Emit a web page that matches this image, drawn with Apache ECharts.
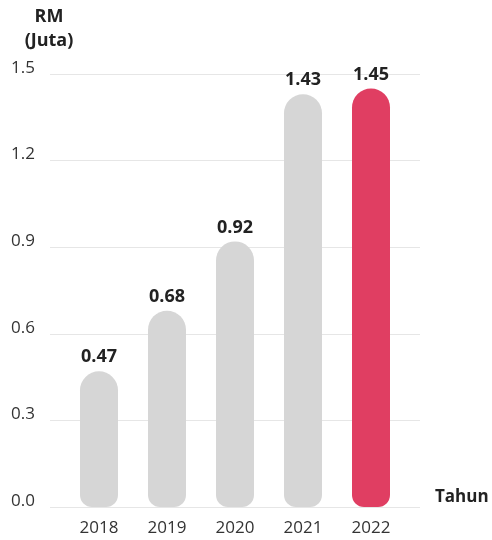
<!DOCTYPE html>
<html>
<head>
<meta charset="utf-8">
<script src="https://cdn.jsdelivr.net/npm/echarts@6/dist/echarts.min.js"></script>
<style>html,body{margin:0;padding:0;background:#fff}#c{width:492px;height:540px}</style>
</head>
<body>
<div id="c"></div>
<script>
const years = ['2018', '2019', '2020', '2021', '2022'];
const values = [0.47, 0.68, 0.92, 1.43, 1.45];
const yTicks = { min: 0, max: 1.5, interval: 0.3 };
const unitLabel = 'RM\n(Juta)';
const xName = 'Tahun';

const FONT = '"Open Sans", Lato, sans-serif';
const grey = '#d6d6d6', red = '#e03e62';
const chart = echarts.init(document.getElementById('c'));
const gTop = 74, gBottom = 33;
chart.setOption({
  animation: false,
  grid: [
    { left: 50, right: 72, top: gTop, bottom: gBottom },
    { left: 65, right: 87, top: gTop, bottom: gBottom }
  ],
  xAxis: [
    { gridIndex: 0, type: 'category', data: years, show: false },
    { gridIndex: 1, type: 'category', data: years,
      axisLine: { show: false }, axisTick: { show: false },
      axisLabel: { color: '#333', fontSize: 17, fontFamily: FONT, margin: 13 } }
  ],
  yAxis: [
    { gridIndex: 0, type: 'value', min: yTicks.min, max: yTicks.max, interval: yTicks.interval,
      axisLine: { show: false }, axisTick: { show: false },
      splitLine: { lineStyle: { color: '#e6e6e6', width: 1 } },
      axisLabel: { color: '#333', fontSize: 17, fontFamily: FONT, margin: 15, verticalAlign: 'bottom',
        lineHeight: 12, formatter: v => v.toFixed(1) } },
    { gridIndex: 1, type: 'value', min: yTicks.min, max: yTicks.max, interval: yTicks.interval, show: false }
  ],
  graphic: [
    { type: 'text', x: 49, y: 5, style: { text: unitLabel, fill: '#222', font: 'bold 18px ' + FONT, align: 'center', lineHeight: 24 } },
    { type: 'text', x: 435, y: 489, style: { text: xName, fill: '#222', font: 'bold 17px ' + FONT } }
  ],
  series: [{
    type: 'bar', xAxisIndex: 1, yAxisIndex: 1,
    data: values.map((v, i) => ({ value: v, itemStyle: { color: i === values.length - 1 ? red : grey } })),
    barWidth: 38,
    itemStyle: { borderRadius: [19, 19, 12, 12] },
    label: { show: true, position: 'top', distance: 5, color: '#222', fontWeight: 'bold', fontSize: 18, fontFamily: FONT,
      formatter: p => p.value.toFixed(2) }
  }]
});
</script>
</body>
</html>
